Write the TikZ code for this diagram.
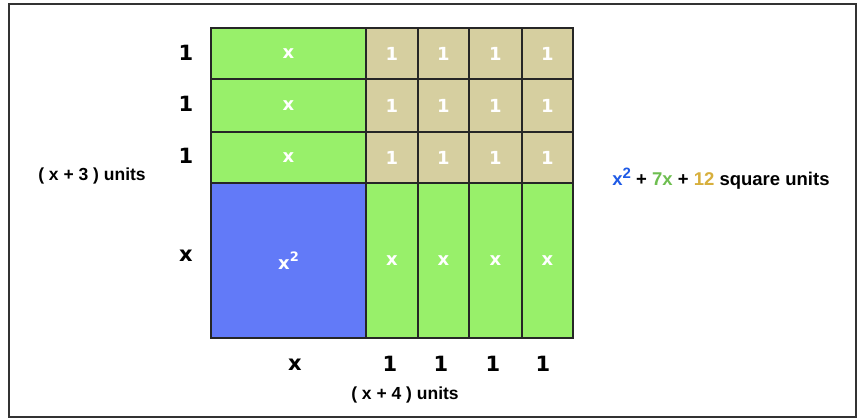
\documentclass[tikz,border=0pt]{standalone}
\usepackage{fontspec}
\setmainfont{Liberation Sans}
\newfontfamily\tilefont{DejaVu Sans}
\definecolor{tgreen}{RGB}{152,240,106}
\definecolor{ttan}{RGB}{214,207,160}
\definecolor{tblue}{RGB}{98,122,248}
\definecolor{lblue}{RGB}{30,90,230}
\definecolor{lgreen}{RGB}{110,190,80}
\definecolor{ltan}{RGB}{215,175,60}
\begin{document}
\begin{tikzpicture}[x=1pt,y=-1pt,
  tile/.style={draw=black!85, line width=1.1pt, inner sep=0pt, text=white, font=\tilefont\bfseries\fontsize{18}{20}\selectfont},
  side/.style={inner sep=0pt, font=\tilefont\bfseries\fontsize{21}{23}\selectfont},
  unitlbl/.style={inner sep=0pt, font=\bfseries\fontsize{17.5}{19}\selectfont}]
\useasboundingbox (0,0) rectangle (865,420);
\fill[white] (0,0) rectangle (865,420);
\node[draw=black!80, line width=2pt, minimum width=847pt, minimum height=413pt, inner sep=0pt] (frame) at (432.5,210.5) {};
% x strips top-left
\foreach \r/\y/\h in {1/53.5/51,2/105.5/53,3/157.5/51}{
  \node[tile, fill=tgreen, minimum width=155pt, minimum height=\h pt] (x\r) at (288.5,\y) {x};
}
% unit squares
\foreach \r/\y/\h in {1/53.5/51,2/105.5/53,3/157.5/51}{
  \foreach \c/\x/\w in {1/392/52,2/443.5/51,3/495.5/53,4/547.5/51}{
    \node[tile, fill=ttan, minimum width=\w pt, minimum height=\h pt] (u\r\c) at (\x,\y) {1};
  }
}
% x^2
\node[tile, fill=tblue, minimum width=155pt, minimum height=155pt] (sq) at (288.5,260.5) {x\raisebox{0.8ex}{\fontsize{13}{13}\selectfont 2}};
% vertical x strips
\foreach \c/\x/\w in {1/392/52,2/443.5/51,3/495.5/53,4/547.5/51}{
  \node[tile, fill=tgreen, minimum width=\w pt, minimum height=155pt] (v\c) at (\x,260.5) {x};
}
% side labels
\node[side] (l1) at (186,53) {1};
\node[side] (l2) at (186,104) {1};
\node[side] (l3) at (186,156) {1};
\node[side] (lx) at (186,256) {x};
\node[side] (bx) at (295,365) {x};
\node[side] (b1) at (390,364) {1};
\node[side] (b2) at (441,364) {1};
\node[side] (b3) at (493,364) {1};
\node[side] (b4) at (543,364) {1};
\node[unitlbl] (h) at (92,176) {( x + 3 ) units};
\node[unitlbl] (w) at (405,395) {( x + 4 ) units};
\node[unitlbl, font=\bfseries\fontsize{18.5}{20}\selectfont] (area) at (721,179) {\textcolor{lblue}{x\raisebox{0.75ex}{\fontsize{15}{15}\selectfont 2}} + \textcolor{lgreen}{7x} + \textcolor{ltan}{12} square units};
\end{tikzpicture}
\end{document}
